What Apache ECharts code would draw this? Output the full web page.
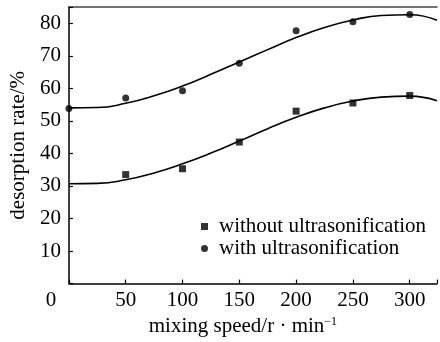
<!DOCTYPE html>
<html>
<head>
<meta charset="utf-8">
<script src="https://cdn.jsdelivr.net/npm/echarts@6/dist/echarts.min.js"></script>
<style>
  html, body { margin: 0; padding: 0; background: #fff; }
  #chart { width: 440px; height: 342px; }
</style>
</head>
<body>
<div id="chart"></div>
<script>
// Measured desorption rate at each mixing speed (r/min)
var speeds = [0, 50, 100, 150, 200, 250, 300];
var withUltrasound = [53.8, 57.0, 59.3, 67.7, 77.7, 80.5, 82.7];
var speedsNoUltrasound = [50, 100, 150, 200, 250, 300];
var withoutUltrasound = [33.5, 35.3, 43.5, 53.0, 55.5, 57.8];

// Fitted trend curves
var fitSpeeds = [0, 25, 50, 75, 100, 125, 150, 175, 200, 225, 250, 275, 300, 324];
var fitWith = [54.0, 54.1, 55.4, 57.7, 60.7, 64.3, 68.1, 71.9, 75.6, 78.7, 81.0, 82.4, 82.6, 80.9];
var fitWithout = [30.7, 30.8, 31.9, 34.0, 36.8, 40.1, 43.8, 47.6, 51.1, 54.0, 56.1, 57.3, 57.6, 56.2];

var xTicks = [0, 50, 100, 150, 200, 250, 300];
var yTicks = [10, 20, 30, 40, 50, 60, 70, 80];

function pairs(xs, ys) {
  return xs.map(function (x, i) { return [x, ys[i]]; });
}

var font = 'Liberation Serif';
var chart = echarts.init(document.getElementById('chart'), null, { renderer: 'canvas' });

chart.setOption({
  animation: false,
  backgroundColor: '#fff',
  textStyle: { fontFamily: font, color: '#000' },
  grid: { left: 62, right: 0, top: 7, bottom: 53, containLabel: false },
  legend: {
    orient: 'vertical',
    left: 196,
    top: 211,
    itemWidth: 7,
    itemHeight: 7,
    itemGap: 1,
    data: [
      { name: 'without ultrasonification', icon: 'rect' },
      { name: 'with ultrasonification', icon: 'circle' }
    ],
    textStyle: { fontFamily: font, fontSize: 21, color: '#000', padding: [0, 0, 0, 6] }
  },
  xAxis: [{
    type: 'value',
    min: 0,
    max: 324,
    interval: 50,
    splitLine: { show: false },
    axisLine: { lineStyle: { color: '#000', width: 1.5 } },
    axisTick: { inside: true, length: 4, lineStyle: { color: '#000', width: 1.2 } },
    axisLabel: {
      margin: 6,
      fontFamily: font,
      fontSize: 21,
      color: '#000',
      formatter: function (v) {
        if (xTicks.indexOf(v) < 0) return '';
        return v === 0 ? '{z|0}' : String(v);
      },
      rich: { z: { fontFamily: font, fontSize: 21, color: '#000', padding: [0, 36, 0, 0] } }
    },
    name: 'mixing speed/r · min{sup|−1}',
    nameLocation: 'middle',
    nameGap: 29,
    nameTextStyle: {
      fontFamily: font, fontSize: 21, color: '#000', padding: [0, 20, 0, 0],
      rich: { sup: { fontFamily: font, fontSize: 12, color: '#000', verticalAlign: 'top', padding: [0, 0, 10, 0] } }
    }
  }, {
    type: 'value',
    position: 'top',
    min: 0,
    max: 324,
    splitLine: { show: false },
    axisLine: { lineStyle: { color: '#444', width: 1.5 } },
    axisTick: { show: false },
    axisLabel: { show: false }
  }],
  yAxis: {
    type: 'value',
    min: 0,
    max: 85,
    interval: 10,
    splitLine: { show: false },
    axisLine: { show: true, lineStyle: { color: '#000', width: 1.5 } },
    axisTick: { show: true, inside: true, length: 4, lineStyle: { color: '#000', width: 1.2 } },
    axisLabel: {
      margin: 8,
      fontFamily: font,
      fontSize: 21,
      color: '#000',
      formatter: function (v) { return yTicks.indexOf(v) >= 0 ? String(v) : ''; }
    },
    name: 'desorption rate/%',
    nameLocation: 'middle',
    nameGap: 38,
    nameTextStyle: { fontFamily: font, fontSize: 21, color: '#000' }
  },
  series: [
    {
      name: 'fit with',
      type: 'line',
      smooth: 0.5,
      showSymbol: false,
      silent: true,
      lineStyle: { color: '#000', width: 1.6 },
      data: pairs(fitSpeeds, fitWith),
      z: 2
    },
    {
      name: 'fit without',
      type: 'line',
      smooth: 0.5,
      showSymbol: false,
      silent: true,
      lineStyle: { color: '#000', width: 1.6 },
      data: pairs(fitSpeeds, fitWithout),
      z: 2
    },
    {
      name: 'without ultrasonification',
      type: 'scatter',
      symbol: 'rect',
      symbolSize: 7,
      itemStyle: { color: '#000' },
      data: pairs(speedsNoUltrasound, withoutUltrasound),
      z: 3
    },
    {
      name: 'with ultrasonification',
      type: 'scatter',
      symbol: 'circle',
      symbolSize: 7,
      itemStyle: { color: '#000' },
      data: pairs(speeds, withUltrasound),
      z: 3
    }
  ]
});
</script>
</body>
</html>
